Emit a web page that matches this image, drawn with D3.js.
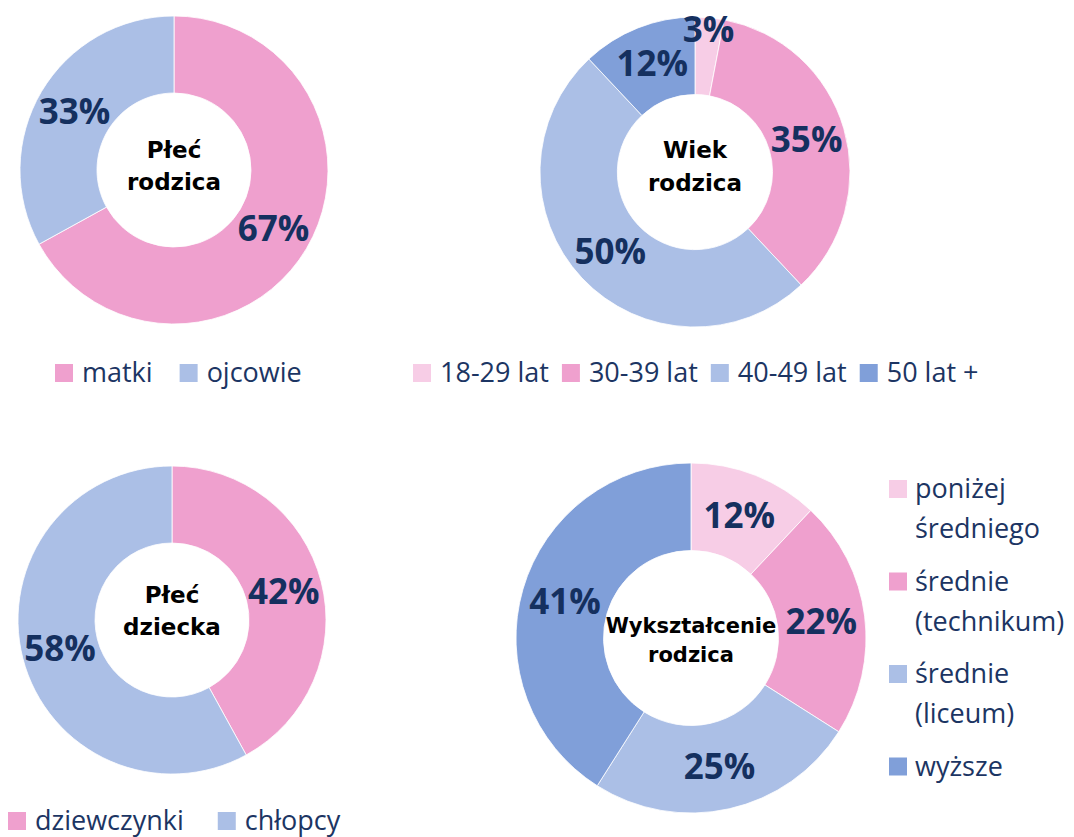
<!DOCTYPE html>
<html>
<head>
<meta charset="utf-8">
<script src="https://cdn.jsdelivr.net/npm/d3@7"></script>
<style>
  body { margin: 0; background: #fff; }
  svg { display: block; }
</style>
</head>
<body>
<div id="chart"></div>
<script>
// data
const parentSexCats = ["matki", "ojcowie"];
const parentSexVals = [67, 33];

const parentAgeCats = ["18-29 lat", "30-39 lat", "40-49 lat", "50 lat +"];
const parentAgeVals = [3, 35, 50, 12];

const childSexCats = ["dziewczynki", "chłopcy"];
const childSexVals = [42, 58];

const eduCats = ["poniżej średniego", "średnie (technikum)", "średnie (liceum)", "wyższe"];
const eduVals = [12, 22, 25, 41];

const lightPink = "#F7CDE6", pink = "#EFA0CE", lightBlue = "#ABBFE6", blue = "#809FD9";
const navy = "#15305f", legendNavy = "#1c3563";

const width = 1074, height = 837;
const svg = d3.select("#chart").append("svg")
    .attr("width", width)
    .attr("height", height);

// one donut per block
const charts = [
    { cats: parentSexCats, vals: parentSexVals, colors: [pink, lightBlue],
      cx: 174, cy: 170, r: 154, title: ["Płeć", "rodzica"], titleSize: 23, titleY: [-12, 20],
      legend: { x: 55, y: 382, gap: 27 } },
    { cats: parentAgeCats, vals: parentAgeVals, colors: [lightPink, pink, lightBlue, blue],
      cx: 695, cy: 172, r: 155, title: ["Wiek", "rodzica"], titleSize: 23, titleY: [-14, 19],
      legend: { x: 413, y: 382, gap: 13 } },
    { cats: childSexCats, vals: childSexVals, colors: [pink, lightBlue],
      cx: 172, cy: 620, r: 154, title: ["Płeć", "dziecka"], titleSize: 23, titleY: [-17, 15],
      legend: { x: 8, y: 830, gap: 34 } },
    { cats: eduCats, vals: eduVals, colors: [lightPink, pink, lightBlue, blue],
      cx: 691, cy: 638, r: 175, title: ["Wykształcenie", "rodzica"], titleSize: 21, titleY: [-5, 24],
      legend: { x: 889, y: 498, vertical: true, step: 92.5, lineH: 40 } }
];

const pie = d3.pie().sort(null).value(d => d);

charts.forEach(c => drawDonut(c));

function drawDonut(c) {
    const g = svg.append("g").attr("transform", `translate(${c.cx},${c.cy})`);
    const arcs = pie(c.vals);
    const arc = d3.arc().innerRadius(c.r * 0.5).outerRadius(c.r);
    // tiny slices get their label pushed out towards the rim
    const rimArc = d3.arc().innerRadius(c.r - 12).outerRadius(c.r - 12);

    g.selectAll("path")
        .data(arcs)
        .join("path")
        .attr("d", arc)
        .attr("fill", (d, i) => c.colors[i])
        .attr("stroke", "#fff")
        .attr("stroke-width", 0.8);

    g.selectAll("text.pct")
        .data(arcs)
        .join("text")
        .attr("class", "pct")
        .attr("transform", d => {
            const p = d.data < 5 ? rimArc.centroid(d) : arc.centroid(d);
            return `translate(${p[0]},${p[1]})`;
        })
        .attr("text-anchor", "middle")
        .attr("dy", "0.357em")
        .attr("font-family", "'Open Sans', sans-serif")
        .attr("font-weight", 700)
        .attr("font-size", 35)
        .attr("fill", navy)
        .text(d => d.data + "%");

    c.title.forEach((t, i) => {
        g.append("text")
            .attr("x", 0)
            .attr("y", c.titleY[i])
            .attr("text-anchor", "middle")
            .attr("font-family", "'DejaVu Sans', sans-serif")
            .attr("font-weight", 700)
            .attr("font-size", c.titleSize)
            .attr("fill", "#000")
            .text(t);
    });

    drawLegend(c);
}

function drawLegend(c) {
    const L = c.legend;
    const lg = svg.append("g");
    let x = L.x;
    c.cats.forEach((cat, i) => {
        if (L.vertical) {
            const y = L.y + i * L.step;
            lg.append("rect")
                .attr("x", L.x).attr("y", y - 18)
                .attr("width", 18).attr("height", 18)
                .attr("fill", c.colors[i]);
            cat.split(" ").forEach((line, j) => {
                lg.append("text")
                    .attr("x", L.x + 26)
                    .attr("y", y + j * L.lineH)
                    .attr("font-family", "'Open Sans', sans-serif")
                    .attr("font-size", 27)
                    .attr("fill", legendNavy)
                    .text(line);
            });
        } else {
            lg.append("rect")
                .attr("x", x).attr("y", L.y - 18)
                .attr("width", 18).attr("height", 18)
                .attr("fill", c.colors[i]);
            const t = lg.append("text")
                .attr("x", x + 27)
                .attr("y", L.y)
                .attr("font-family", "'Open Sans', sans-serif")
                .attr("font-size", 27)
                .attr("fill", legendNavy)
                .text(cat);
            x += 27 + t.node().getComputedTextLength() + L.gap;
        }
    });
}
</script>
</body>
</html>
